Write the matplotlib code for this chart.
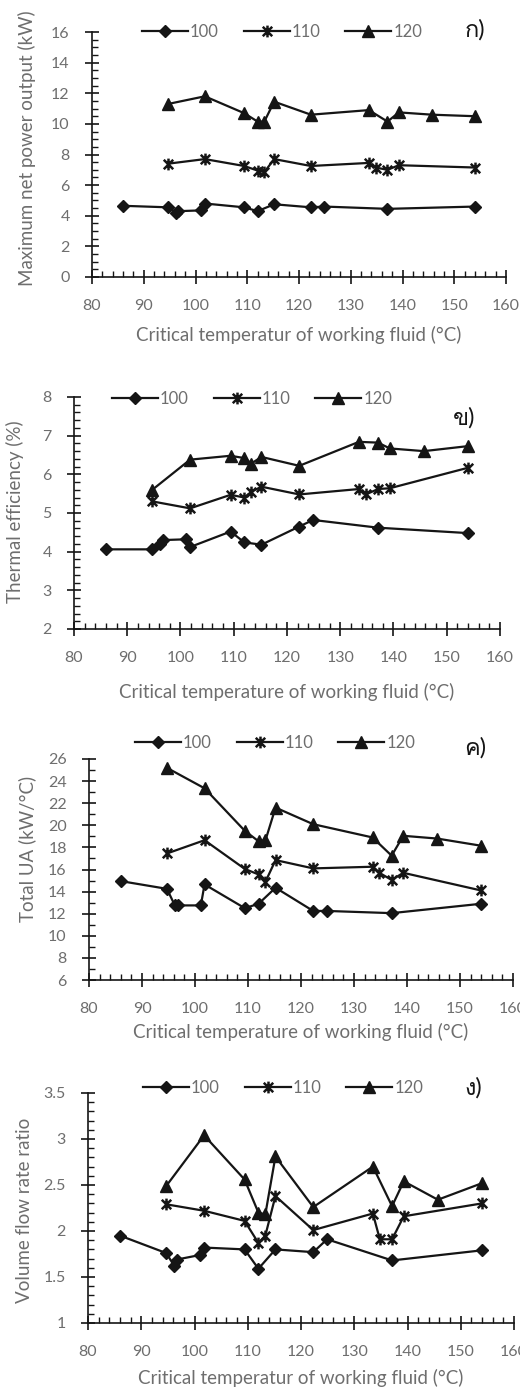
import matplotlib
matplotlib.use("Agg")
import matplotlib.pyplot as plt
from matplotlib import font_manager
from matplotlib.ft2font import FT2Font
from matplotlib.path import Path
from matplotlib.ticker import MultipleLocator

# look for an installed family that can draw the Thai panel tags
thai_families = []
for f in font_manager.fontManager.ttflist:
    try:
        if 0x0E01 in FT2Font(f.fname).get_charmap() and f.name not in thai_families:
            thai_families.append(f.name)
    except Exception:
        pass

plt.rcParams["font.family"] = ["Lato", "DejaVu Sans"] + thai_families

# critical temperature of each working fluid (°C)
x100 = [86.0, 94.7, 96.2, 96.7, 101.1, 101.8, 109.4, 112.0, 115.2, 122.3, 124.9, 137.1, 154.0]
x110 = [94.7, 101.8, 109.4, 112.0, 113.3, 115.2, 122.3, 133.5, 134.8, 137.1, 139.3, 154.0]
x120 = [94.7, 101.8, 109.4, 112.0, 113.3, 115.2, 122.3, 133.5, 137.1, 139.3, 145.7, 154.0]

series_names = ["100", "110", "120"]

# ก) maximum net power output (kW)
power100 = [4.65, 4.55, 4.2, 4.3, 4.35, 4.8, 4.55, 4.3, 4.75, 4.55, 4.6, 4.45, 4.6]
power110 = [7.4, 7.7, 7.25, 6.95, 6.85, 7.7, 7.25, 7.45, 7.15, 7.0, 7.3, 7.15]
power120 = [11.3, 11.8, 10.7, 10.15, 10.15, 11.45, 10.6, 10.9, 10.15, 10.75, 10.6, 10.5]

# ข) thermal efficiency (%)
eff100 = [4.06, 4.06, 4.2, 4.3, 4.32, 4.12, 4.52, 4.24, 4.18, 4.65, 4.82, 4.62, 4.48]
eff110 = [5.3, 5.12, 5.47, 5.4, 5.55, 5.68, 5.48, 5.62, 5.48, 5.62, 5.64, 6.17]
eff120 = [5.6, 6.38, 6.48, 6.42, 6.28, 6.45, 6.22, 6.84, 6.82, 6.67, 6.6, 6.73]

# ค) total UA (kW/°C)
ua100 = [14.95, 14.25, 12.75, 12.75, 12.75, 14.65, 12.5, 12.9, 14.35, 12.25, 12.25, 12.05, 12.9]
ua110 = [17.45, 18.65, 16.05, 15.55, 14.9, 16.85, 16.1, 16.25, 15.7, 15.05, 15.7, 14.1]
ua120 = [25.2, 23.35, 19.5, 18.55, 18.65, 21.6, 20.1, 18.9, 17.25, 19.05, 18.8, 18.15]

# ง) volume flow rate ratio
vfr100 = [1.95, 1.76, 1.62, 1.69, 1.74, 1.82, 1.80, 1.59, 1.80, 1.77, 1.91, 1.68, 1.79]
vfr110 = [2.29, 2.22, 2.11, 1.87, 1.95, 2.38, 2.01, 2.19, 1.91, 1.91, 2.16, 2.30]
vfr120 = [2.49, 3.04, 2.56, 2.20, 2.18, 2.81, 2.26, 2.70, 2.27, 2.54, 2.34, 2.52]

W, H = 520, 1391
fig = plt.figure(figsize=(W / 100, H / 100), dpi=100)

star = Path([(-1, -1), (1, 1), (-1, 1), (1, -1), (0, -1.25), (0, 1.25)],
            [Path.MOVETO, Path.LINETO, Path.MOVETO, Path.LINETO, Path.MOVETO, Path.LINETO])

gray = "#6e6e6e"
ink = "#151515"

panels = [
    dict(box=(92, 506, 32, 277), ylim=(0, 16), major=2, minor=0.5,
         data=(power100, power110, power120),
         ylabel="Maximum net power output (kW)",
         xlabel="Critical temperatur of working fluid (\u00b0C)", xly=335,
         tag="ก)", tagxy=(475, 30), leg=(142, 32), ylx=27, yly=148),
    dict(box=(74, 500, 397, 629), ylim=(2, 8), major=1, minor=0.2,
         data=(eff100, eff110, eff120),
         ylabel="Thermal efficiency (%)",
         xlabel="Critical temperature of working fluid (\u00b0C)", xly=692,
         tag="ข)", tagxy=(464, 418), leg=(112, 399), ylx=15, yly=512),
    dict(box=(89, 513, 759, 980), ylim=(6, 26), major=2, minor=1,
         data=(ua100, ua110, ua120),
         ylabel="Total UA (kW/\u00b0C)",
         xlabel="Critical temperature of working fluid (\u00b0C)", xly=1032,
         tag="ค)", tagxy=(475, 748), leg=(135, 743), ylx=27, yly=849),
    dict(box=(88, 514, 1093, 1323), ylim=(1, 3.5), major=0.5, minor=0.1,
         data=(vfr100, vfr110, vfr120),
         ylabel="Volume flow rate ratio",
         xlabel="Critical temperatur of working fluid (\u00b0C)", xly=1378,
         tag="ง)", tagxy=(473, 1088), leg=(143, 1088), ylx=25, yly=1210),
]

xs = (x100, x110, x120)
styles = [dict(marker="D", markersize=6),
          dict(marker=star, markersize=8.5, markeredgewidth=1.8),
          dict(marker="^", markersize=8.5)]

for p in panels:
    l, r, t, b = p["box"]
    ax = fig.add_axes([l / W, 1 - b / H, (r - l) / W, (b - t) / H])
    for x, y, name, st in zip(xs, p["data"], series_names, styles):
        ax.plot(x, y, color=ink, linewidth=1.6, markerfacecolor=ink,
                markeredgecolor=ink, label=name, **st)
    ax.set_xlim(80, 160)
    ax.set_ylim(*p["ylim"])
    ax.xaxis.set_major_locator(MultipleLocator(10))
    ax.xaxis.set_minor_locator(MultipleLocator(2))
    ax.yaxis.set_major_locator(MultipleLocator(p["major"]))
    ax.yaxis.set_minor_locator(MultipleLocator(p["minor"]))
    ax.yaxis.set_major_formatter(plt.FuncFormatter(lambda v, pos: f"{v:g}"))
    ax.spines["top"].set_visible(False)
    ax.spines["right"].set_visible(False)
    for s in ("left", "bottom"):
        ax.spines[s].set_linewidth(1.2)
        ax.spines[s].set_color(ink)
    ax.tick_params(which="major", direction="inout", length=10, width=1.2,
                   color=ink, labelsize=11.5, labelcolor=gray, pad=11)
    ax.tick_params(which="minor", direction="in", length=4.5, width=1.0, color=ink)
    ax.set_xlabel(p["xlabel"], fontsize=13.5, color=gray)
    ax.xaxis.set_label_coords(0.5, (b - p["xly"]) / (b - t), transform=ax.transAxes)
    ax.set_ylabel(p["ylabel"], fontsize=13.5, color=gray)
    ax.yaxis.set_label_coords((p["ylx"] - l) / (r - l), (b - p["yly"]) / (b - t),
                              transform=ax.transAxes)
    ax.xaxis.label.set_va("center")
    ax.yaxis.label.set_va("center")
    lx, ly = p["leg"]
    ax.legend(loc="center left", bbox_to_anchor=(lx / W, 1 - ly / H),
              bbox_transform=fig.transFigure, ncol=3, frameon=False,
              handlelength=2.75, handletextpad=0.12, columnspacing=1.5,
              borderpad=0, borderaxespad=0, fontsize=12, labelcolor=gray)
    tx, ty = p["tagxy"]
    fig.text(tx / W, 1 - ty / H, p["tag"], fontsize=17, color=ink,
             ha="center", va="center")

fig.savefig("out.png", dpi=100)
